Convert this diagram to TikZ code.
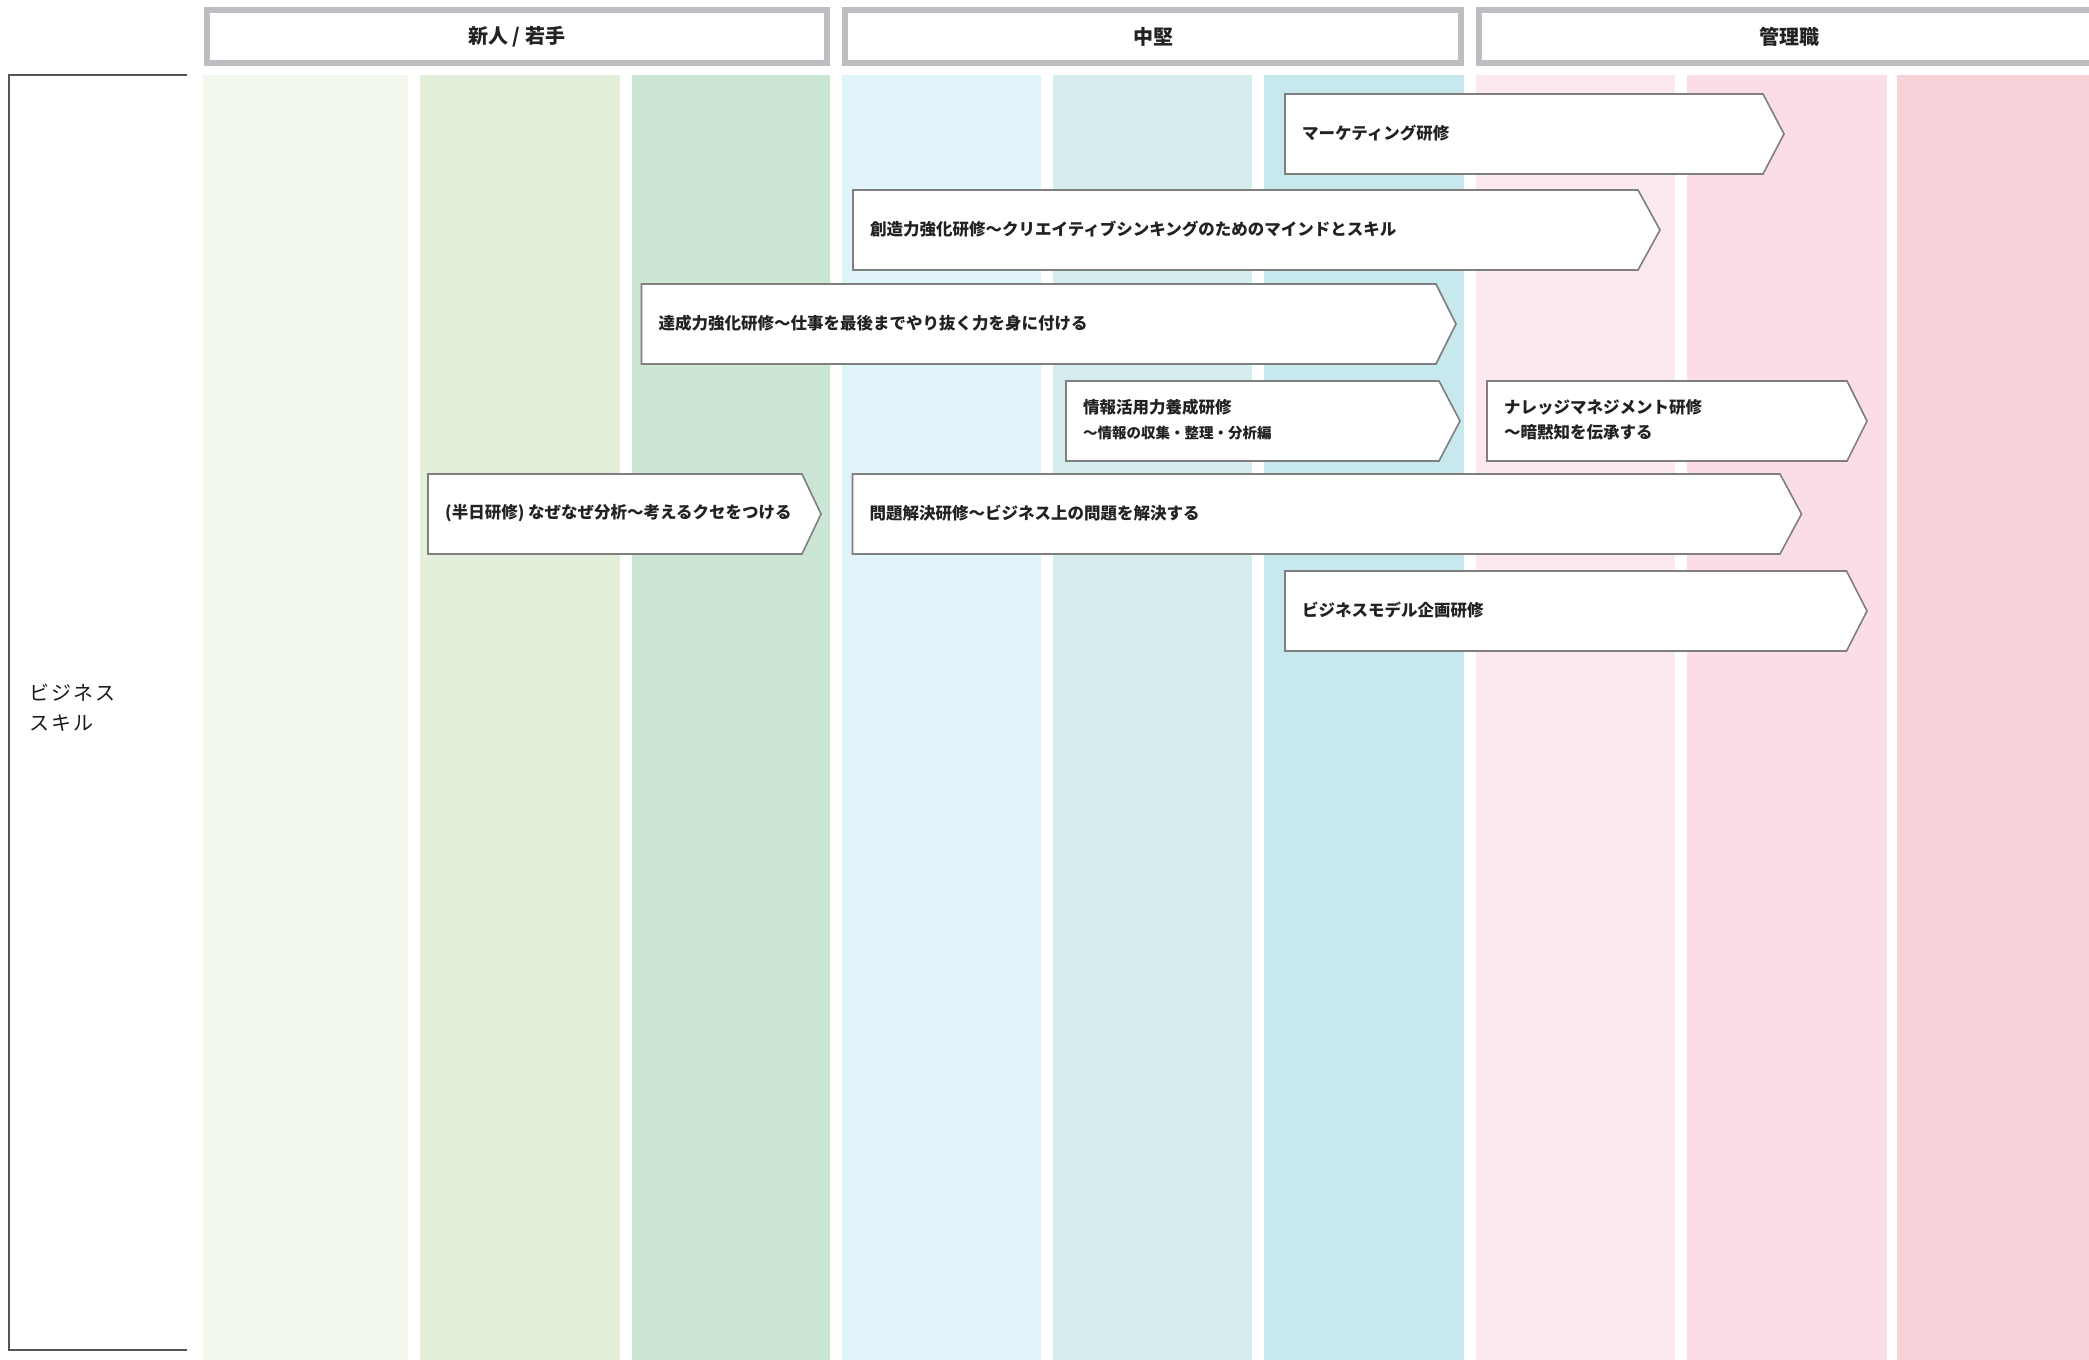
\documentclass[tikz,border=0pt]{standalone}
\usepackage{fontspec}
\setmainfont{Noto Sans CJK JP}
\definecolor{cA}{HTML}{F2F7ED}
\definecolor{cB}{HTML}{E3EFDA}
\definecolor{cC}{HTML}{CCE6D5}
\definecolor{cD}{HTML}{E1F3FA}
\definecolor{cE}{HTML}{D5EDEE}
\definecolor{cF}{HTML}{C7E9EE}
\definecolor{cG}{HTML}{FCE8F0}
\definecolor{cH}{HTML}{FBDDE8}
\definecolor{cI}{HTML}{F9D1D8}
\definecolor{hdrgray}{HTML}{BEBEC2}
\definecolor{boxgray}{HTML}{7F7F7F}
\definecolor{txt}{HTML}{222222}
\definecolor{leftgray}{HTML}{555555}
\newcommand\coursebox[6]{%
  \draw[course] (#2,#3) -- (#4,#3) -- (#5,#3+40) -- (#4,#3+80) -- (#2,#3+80) -- cycle;
  \node[ctext] (#1) at (#2+17,#3+39) {#6};}
\begin{document}
\begin{tikzpicture}[x=1pt,y=-1pt,
  hdr/.style={draw=hdrgray, line width=6pt, fill=white, inner sep=0pt,
    font=\bfseries\fontsize{20}{24}\selectfont, text=txt},
  course/.style={draw=boxgray, line width=1.6pt, fill=white, line join=miter},
  ctext/.style={anchor=west, align=left, inner sep=0pt, text=txt,
    font=\bfseries\fontsize{16.5}{25}\selectfont},
  leftline/.style={draw=leftgray, line width=2pt},
  lbl/.style={anchor=west, align=left, inner sep=0pt, text=black!90,
    font=\fontsize{20}{30}\selectfont\addfontfeatures{LetterSpace=10}}]
\useasboundingbox (0,0) rectangle (2089,1360);
\clip (0,0) rectangle (2089,1360);
% columns
\foreach \a/\b/\c in {202.5/408/cA, 419.7/619.5/cB, 631.5/830/cC,
  842/1040.5/cD, 1052.5/1252.3/cE, 1264.3/1464/cF,
  1476/1674.7/cG, 1686.6/1886.5/cH, 1897/2089/cI}
  \fill[\c] (\a,75) rectangle (\b,1360);
% headers
\node[hdr, minimum width=620.5pt, minimum height=52.7pt] (h1) at (516.75,36.6) {新人 / 若手};
\node[hdr, minimum width=616pt, minimum height=52.7pt] (h2) at (1153,36.6) {中堅};
\node[hdr, minimum width=621pt, minimum height=52.7pt] (h3) at (1789.5,36.6) {管理職};
% left box
\draw[leftline] (186.5,75) -- (9.3,75) -- (9.3,1349.5) -- (186.5,1349.5);
\node[lbl] (cat) at (29,708) {ビジネス\\スキル};
% course boxes
\coursebox{mk}{1285}{94}{1763}{1784}{マーケティング研修}
\coursebox{cr}{853}{190}{1638}{1660}{創造力強化研修〜クリエイティブシンキングのためのマインドとスキル}
\coursebox{ta}{641.5}{284}{1436}{1456}{達成力強化研修〜仕事を最後までやり抜く力を身に付ける}
\coursebox{jo}{1066}{381}{1439}{1460}{情報活用力養成研修\\{\fontsize{14.5}{25}\selectfont 〜情報の収集・整理・分析編}}
\coursebox{kn}{1487}{381}{1847}{1867}{ナレッジマネジメント研修\\〜暗黙知を伝承する}
\coursebox{hn}{428}{474}{802}{821}{(半日研修) なぜなぜ分析〜考えるクセをつける}
\coursebox{mo}{852.5}{474}{1780}{1801.5}{問題解決研修〜ビジネス上の問題を解決する}
\coursebox{bm}{1285}{571}{1846.5}{1867}{ビジネスモデル企画研修}
\end{tikzpicture}
\end{document}
